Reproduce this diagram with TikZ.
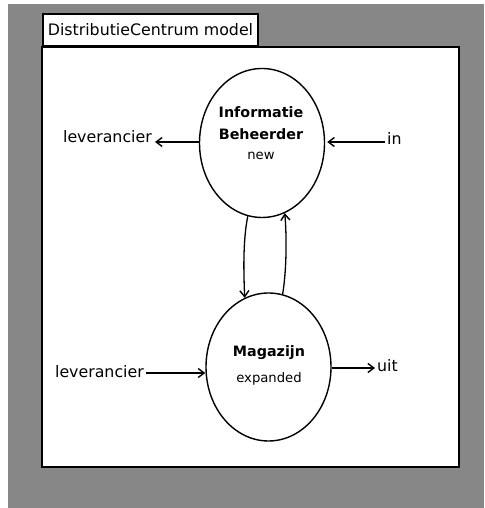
\documentclass[tikz,border=0pt]{standalone}
\usepackage{fontspec}
\setmainfont{DejaVu Sans}
\usetikzlibrary{arrows.meta,calc,shapes.geometric}
\definecolor{deskgray}{gray}{0.53}
\begin{document}
\begin{tikzpicture}[x=1pt,y=1pt,
  lbl/.style={font=\fontsize{15.8}{19}\selectfont, inner sep=0pt},
  procname/.style={font=\fontsize{14.3}{17}\selectfont\bfseries, inner sep=0pt},
  procstate/.style={font=\fontsize{13.2}{16}\selectfont, inner sep=0pt},
  proc/.style={ellipse, draw, line width=1.4pt, minimum width=125pt,
    minimum height=149pt, inner sep=0pt},
  flow/.style={line width=1.3pt,
    -{Straight Barb[length=6pt,width=9pt,line width=1.4pt]}},
  window/.style={draw, line width=2.5pt, fill=white},
  tab/.style={draw, line width=2pt, fill=white, anchor=south west,
    minimum width=215pt, minimum height=32pt,
    inner xsep=4pt, inner ysep=0pt,
    font=\fontsize{15.8}{19}\selectfont},
]
\useasboundingbox (0,0) rectangle (484,508);
% desktop and model window
\fill[deskgray] (8,0) rectangle (484,504);
\draw[window] (42,41) rectangle (459,461);
\node[tab] (wintitle) at (42,461) {DistributieCentrum model};

% processes
\node[proc] (ib) at (262,365) {};
\node[proc, minimum height=148pt] (mg) at (268.5,141) {};
\node[procname, anchor=base] (ibname1) at (261,390) {Informatie};
\node[procname, anchor=base] (ibname2) at (261,368) {Beheerder};
\node[procstate, anchor=base] (ibstate) at (261,348) {new};
\node[procname, anchor=base] (mgname) at (269,151) {Magazijn};
\node[procstate, anchor=base] (mgstate) at (269,125) {expanded};

% ports
\node[lbl, anchor=base east] (levout) at (152,365) {leverancier};
\node[lbl, anchor=base west] (in) at (387,363) {in};
\node[lbl, anchor=base east] (levin) at (144,130) {leverancier};
\node[lbl, anchor=base west] (uit) at (377,136) {uit};

% channels
\draw[flow] (ib.west |- 0,366) -- ($(levout.base east)+(3,1)$);
\draw[flow, shorten >=2pt] ($(in.base west)+(-2,3)$) -- (ib.east |- 0,366);
\draw[flow] ($(levin.base east)+(2,5)$) -- (mg.west |- 0,135);
\draw[flow] (mg.east |- 0,140) -- ($(uit.base west)+(-2,4)$);
\draw[flow] (ib.-101) .. controls +(-5,-25) and +(-1,25) .. (mg.109);
\draw[flow] (mg.79) .. controls +(4,25) and +(2,-25) .. (ib.-72);
\end{tikzpicture}
\end{document}
